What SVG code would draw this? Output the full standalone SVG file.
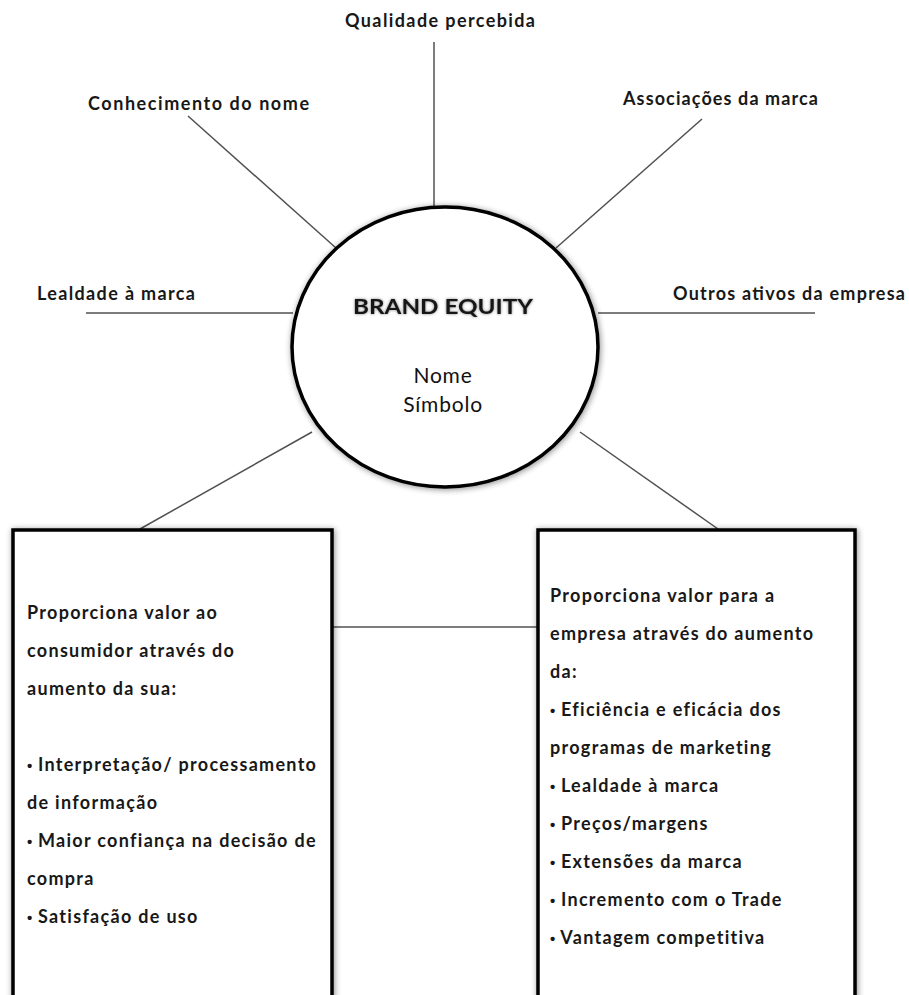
<svg xmlns="http://www.w3.org/2000/svg" width="909" height="995" viewBox="0 0 909 995">
<defs>
<filter id="shadow" x="-10%" y="-10%" width="120%" height="120%">
<feGaussianBlur in="SourceAlpha" stdDeviation="3" result="b"/>
<feOffset in="b" dx="1" dy="1" result="o"/>
<feComponentTransfer in="o" result="s"><feFuncA type="linear" slope="0.45"/></feComponentTransfer>
<feMerge><feMergeNode in="s"/><feMergeNode in="SourceGraphic"/></feMerge>
</filter>
<filter id="glow" x="-10%" y="-30%" width="120%" height="160%">
<feGaussianBlur in="SourceAlpha" stdDeviation="1.5" result="b"/>
<feComponentTransfer in="b" result="s"><feFuncA type="linear" slope="0.5"/></feComponentTransfer>
<feMerge><feMergeNode in="s"/><feMergeNode in="SourceGraphic"/></feMerge>
</filter>
</defs>
<style>
text { font-family: Lato, "Open Sans", "Liberation Sans", sans-serif; font-weight: bold; fill: #181818; }
.lbl { font-size: 18px; }
.box { font-size: 18px; letter-spacing: 1.3px; }
.bul { font-family: "Liberation Sans", sans-serif; font-size: 15px; letter-spacing: 0; }
.reg { font-weight: normal; font-size: 21px; letter-spacing: 0.8px; fill: #111111; }
.edge { stroke: #505050; stroke-width: 1.5; fill: none; }
.shape { fill: #ffffff; stroke: #000000; stroke-width: 3.5; }
</style>
<rect width="909" height="995" fill="#ffffff"/>
<g id="connectors">
<line class="edge" x1="434" y1="42" x2="434" y2="208"/>
<line class="edge" x1="188" y1="116" x2="336" y2="248"/>
<line class="edge" x1="702" y1="119" x2="556" y2="248"/>
<line class="edge" x1="86" y1="313" x2="293" y2="313"/>
<line class="edge" x1="598" y1="313" x2="815" y2="313"/>
<line class="edge" x1="312" y1="432" x2="140" y2="529"/>
<line class="edge" x1="580" y1="432" x2="718" y2="529"/>
<line class="edge" x1="332" y1="627" x2="538" y2="627"/>
</g>
<g id="brand-equity">
<ellipse class="shape" cx="445" cy="347" rx="153" ry="140" filter="url(#shadow)"/>
<text x="443" y="314" text-anchor="middle" font-size="21" textLength="180" lengthAdjust="spacingAndGlyphs" filter="url(#glow)">BRAND EQUITY</text>
<text class="reg" x="443" y="383" text-anchor="middle">Nome</text>
<text class="reg" x="443" y="412" text-anchor="middle">Símbolo</text>
</g>
<g id="qualidade"><text class="lbl" x="345" y="27" textLength="190" lengthAdjust="spacing">Qualidade percebida</text></g>
<g id="conhecimento"><text class="lbl" x="88" y="110" textLength="221" lengthAdjust="spacing">Conhecimento do nome</text></g>
<g id="associacoes"><text class="lbl" x="623" y="105" textLength="195" lengthAdjust="spacing">Associações da marca</text></g>
<g id="lealdade"><text class="lbl" x="37" y="300" textLength="158" lengthAdjust="spacing">Lealdade à marca</text></g>
<g id="outros"><text class="lbl" x="673" y="300" textLength="232" lengthAdjust="spacing">Outros ativos da empresa</text></g>
<g id="consumidor">
<rect class="shape" x="13" y="530" width="319" height="480" filter="url(#shadow)"/>
<text class="box" x="27" y="619">Proporciona valor ao</text>
<text class="box" x="27" y="657">consumidor através do</text>
<text class="box" x="27" y="695">aumento da sua:</text>
<text class="box" x="27" y="771"><tspan class="bul">•</tspan> Interpretação/ processamento</text>
<text class="box" x="27" y="809">de informação</text>
<text class="box" x="27" y="847"><tspan class="bul">•</tspan> Maior confiança na decisão de</text>
<text class="box" x="27" y="885">compra</text>
<text class="box" x="27" y="923"><tspan class="bul">•</tspan> Satisfação de uso</text>
</g>
<g id="empresa">
<rect class="shape" x="538" y="530" width="317" height="480" filter="url(#shadow)"/>
<text class="box" x="550" y="602">Proporciona valor para a</text>
<text class="box" x="550" y="640">empresa através do aumento</text>
<text class="box" x="550" y="678">da:</text>
<text class="box" x="550" y="716"><tspan class="bul">•</tspan> Eficiência e eficácia dos</text>
<text class="box" x="550" y="754">programas de marketing</text>
<text class="box" x="550" y="792"><tspan class="bul">•</tspan> Lealdade à marca</text>
<text class="box" x="550" y="830"><tspan class="bul">•</tspan> Preços/margens</text>
<text class="box" x="550" y="868"><tspan class="bul">•</tspan> Extensões da marca</text>
<text class="box" x="550" y="906"><tspan class="bul">•</tspan> Incremento com o Trade</text>
<text class="box" x="550" y="944"><tspan class="bul">•</tspan> Vantagem competitiva</text>
</g>
</svg>
